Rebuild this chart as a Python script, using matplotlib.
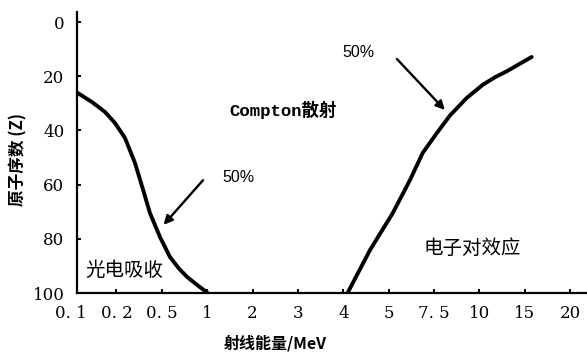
# Photon interaction dominance regions: atomic number vs. ray energy
import numpy as np
import matplotlib.pyplot as plt

plt.rcParams['font.family'] = ['Noto Sans CJK SC', 'DejaVu Sans']

# energy ticks are evenly spaced categories, not a real scale
energy_labels = ['0. 1', '0. 2', '0. 5', '1', '2', '3', '4', '5', '7. 5', '10', '15', '20']
z_ticks = [0, 20, 40, 60, 80, 100]

# boundary where photoelectric = Compton (50%), x in tick-index units
photo_x = [0.15, 0.46, 0.75, 0.97, 1.19, 1.41, 1.59, 1.74, 1.96, 2.18, 2.37, 2.56, 2.80, 3.0]
photo_z = [26.2, 29.5, 33.2, 37.3, 42.8, 52.0, 62.0, 70.5, 79.3, 86.7, 90.8, 94.1, 97.3, 99.8]

# boundary where Compton = pair production (50%)
pair_x = [6.10, 6.59, 7.09, 7.47, 7.75, 8.06, 8.35, 8.72, 9.07, 9.35, 9.60, 10.15]
pair_z = [99.8, 84.1, 70.5, 58.3, 48.3, 41.0, 34.5, 28.0, 23.2, 20.3, 18.2, 12.9]

fig = plt.figure(figsize=(5.87, 3.57), dpi=100)
ax = fig.add_axes([71 / 587, 1 - 293 / 357, 1 - 71 / 587, (293 - 12) / 357])

ax.plot(photo_x, photo_z, color='black', lw=2.8, solid_capstyle='round',
        solid_joinstyle='round')
ax.plot(pair_x, pair_z, color='black', lw=2.8, solid_capstyle='round',
        solid_joinstyle='round')

ax.set_xlim(0, 11.37)
ax.set_ylim(100, -3.7)

for s in ['top', 'right']:
    ax.spines[s].set_visible(False)
for s in ['left', 'bottom']:
    ax.spines[s].set_linewidth(1.6)
# y axis sits a little to the right of the first energy tick
ax.spines['left'].set_position(('data', 0.13))
ax.spines['bottom'].set_bounds(0.13, 11.37)

ax.set_xticks(np.arange(len(energy_labels)))
ax.set_xticklabels(energy_labels, fontfamily='DejaVu Serif', fontsize=12)
ax.set_yticks(z_ticks)
ax.set_yticklabels([str(v) for v in z_ticks], fontfamily='DejaVu Serif', fontsize=12)
ax.tick_params(axis='both', direction='in', length=3, width=1.4, pad=9)
ax.xaxis.get_major_ticks()[0].tick1line.set_visible(False)

# arrows pointing at the 50% boundaries
arrow = dict(arrowstyle='-|>', color='black', lw=1.7, mutation_scale=13)
ax.annotate('', xy=(2.0, 75.6), xytext=(2.95, 57.6), arrowprops=arrow)
ax.annotate('', xy=(8.28, 33.2), xytext=(7.14, 12.9), arrowprops=arrow)

ax.text(3.68, 57.2, '50%', fontfamily='Liberation Sans', fontsize=11.5,
        ha='center', va='center')
ax.text(6.34, 11.4, '50%', fontfamily='Liberation Sans', fontsize=11.5,
        ha='center', va='center')

ax.text(4.67, 32.5, 'Compton散射', fontfamily=['Liberation Mono', 'Noto Sans CJK SC'],
        fontsize=12.5, fontweight='bold', ha='center', va='center')
ax.text(1.17, 91.5, '光电吸收', fontsize=14, ha='center', va='center')
ax.text(8.85, 83.4, '电子对效应', fontsize=14, ha='center', va='center')

fig.text(18 / 587, 1 - 160 / 357, '原子序数 (Z)', rotation=90, fontsize=12,
         fontweight='bold', ha='center', va='center')
fig.text(275 / 587, 1 - 343 / 357, '射线能量/MeV', fontsize=11.5,
         fontweight='bold', ha='center', va='center')

fig.savefig('out.png', dpi=100)
